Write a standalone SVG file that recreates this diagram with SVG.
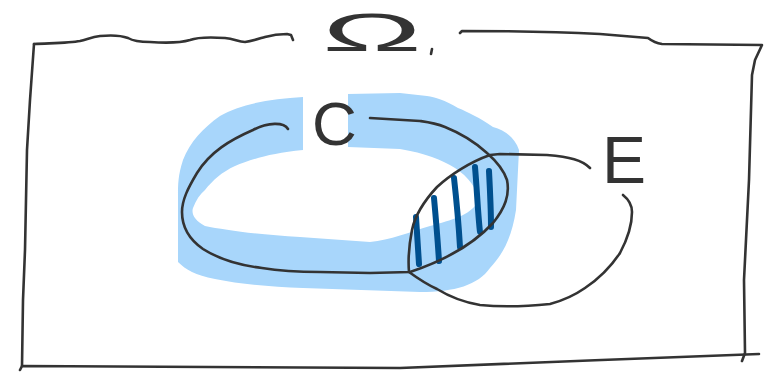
<svg xmlns="http://www.w3.org/2000/svg" width="779" height="372" viewBox="0 0 779 372">
<style>
.ink{fill:none;stroke:#333;stroke-width:2.6;stroke-linecap:round;stroke-linejoin:round}
.hatch{fill:none;stroke:#00508f;stroke-width:6;stroke-linecap:round}
.lbl{fill:#333;font-family:"Liberation Sans",Arial,sans-serif}
</style>
<rect width="779" height="372" fill="#fff"/>
<g id="universe">
<path class="ink" d="M34,44 C55,43 70,43 80,41 C88,39 92,37 100,36 C110,35 120,35 128,38 C133,41 140,42 150,42 C165,43 180,43 190,40 C198,37 210,37 225,38 C235,39 238,42 245,42 C252,41 258,39 265,37 C272,35 280,34 287,34 L291,35 L293,40"/>
<path class="ink" d="M460,33 L462,31 C500,31 560,32 600,34 L648,38 C652,41 655,43 662,44 L762,45 L755,60 L752,75 L749,180 L744,280 L745,353 L742,361"/>
<path class="ink" d="M759,354 C650,358 500,364 400,368 L22,366 L20,370"/>
<path class="ink" d="M34,44 L30,100 L27,150 L25,250 L23,300 L22,366"/>
<text class="lbl" x="322" y="51" font-size="54" textLength="100" lengthAdjust="spacingAndGlyphs">Ω</text>
<path class="ink" d="M432,49 L431,54"/>
</g>
<g id="band">
<path fill="#a8d6fb" d="M303,97 C270,99 240,104 220,116 C203,128 190,142 183,160 C178,175 178,185 178,195 L178,262 C186,270 195,275 215,279 C240,284 270,287 303,288 L420,292 C455,292 478,285 490,268 C505,252 512,235 516,210 L519,150 C515,138 505,130 493,127 C480,118 468,112 458,108 C445,100 435,97 427,96 L400,93 L348,94 L348,147 L400,149 C425,153 442,160 455,168 C470,178 480,192 477,203 C470,215 452,220 430,226 C410,232 390,240 370,242 L300,237 C260,235 225,230 205,226 C195,221 191,214 193,208 C196,200 200,194 205,190 C213,180 222,172 235,166 C250,160 270,153 303,150 Z"/>
</g>
<g id="hatch">
<path class="hatch" d="M416,217 L419,264"/>
<path class="hatch" d="M434,198 C436,220 438,245 439,261"/>
<path class="hatch" d="M454,178 C457,205 459,230 460,247"/>
<path class="hatch" d="M475,167 C477,190 478,215 480,232"/>
<path class="hatch" d="M489,171 C490,190 491,210 491,227"/>
</g>
<g id="set-C">
<path class="ink" d="M288,129 C284,122 268,122 253,130 C230,140 210,152 197,173 C188,188 182,200 182,212 C182,228 190,240 203,249 C222,261 245,266 262,268 C280,271 300,272 320,272 L370,273 L410,272 C440,262 470,248 493,223 C505,208 510,195 507,180 C503,168 495,160 487,153 C475,142 460,133 445,127 C435,123 427,122 420,121 L370,118"/>
<text class="lbl" x="312" y="145" font-size="62">C</text>
</g>
<g id="set-E">
<path class="ink" d="M590,168 C582,160 570,157 547,155 L500,154 L490,155 C470,162 450,175 437,187 C425,200 415,215 412,230 C409,245 408,260 409,272 C420,280 428,285 437,289 C450,297 462,302 480,305 C500,307 530,306 550,304 C565,300 575,295 585,288 C600,278 612,265 620,253 C628,238 632,225 632,212 C632,205 628,199 623,195"/>
<text class="lbl" x="602" y="183" font-size="66">E</text>
</g>
</svg>
